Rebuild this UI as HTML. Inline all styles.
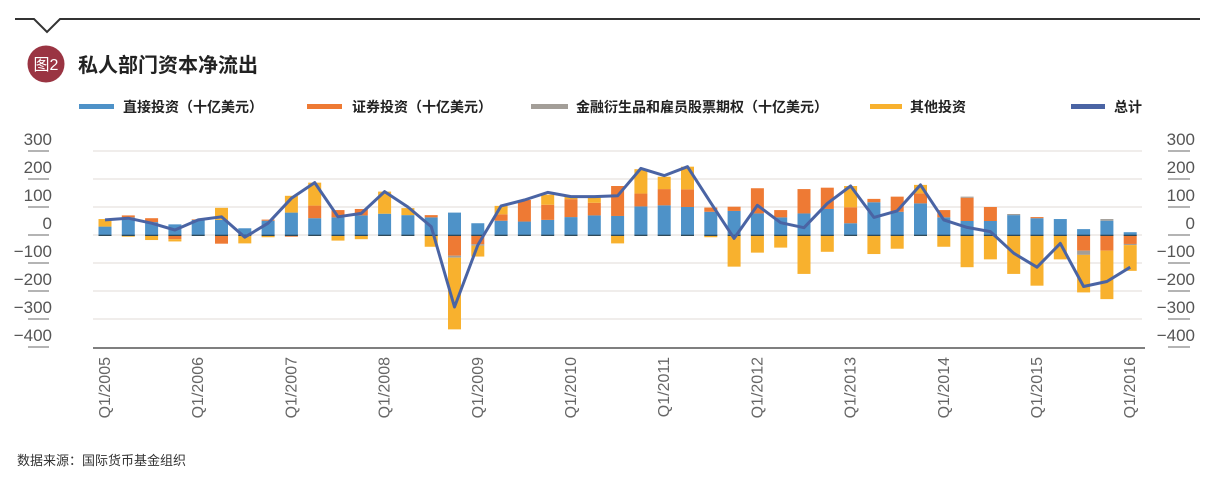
<!DOCTYPE html>
<html><head><meta charset="utf-8"><style>
body{margin:0;background:#fff;width:1213px;height:481px;overflow:hidden}
svg{display:block}
</style></head><body>
<svg id="s" width="1213" height="481" xmlns="http://www.w3.org/2000/svg" font-family="Liberation Sans, Noto Sans CJK SC, sans-serif">
<polyline points="15,19 34,19 47,32 60,19 1200,19" fill="none" stroke="#333" stroke-width="2"/>
<circle cx="46" cy="64" r="18.5" fill="#9a3442"/>
<text x="46" y="70" fill="#fff" font-size="16" text-anchor="middle">图2</text>
<text x="78" y="72" fill="#222" font-size="20" font-weight="bold">私人部门资本净流出</text>
<g font-size="14" font-weight="bold" fill="#222">
<rect x="79" y="104" width="35" height="5" fill="#4e92c8"/><text x="123" y="112">直接投资（十亿美元）</text>
<rect x="307" y="104" width="35" height="5" fill="#ee7a34"/><text x="352" y="112">证券投资（十亿美元）</text>
<rect x="531" y="104" width="37" height="5" fill="#a39e98"/><text x="576" y="112">金融衍生品和雇员股票期权（十亿美元）</text>
<rect x="870" y="104" width="32" height="5" fill="#f8b12e"/><text x="910" y="112">其他投资</text>
<rect x="1071" y="104" width="34" height="5" fill="#4a64a4"/><text x="1114" y="112">总计</text>
</g>
<text x="17" y="465" font-size="13" fill="#333">数据来源：国际货币基金组织</text>
<g id="g"></g>
</svg>
<script>
var g=document.getElementById('g'),NS='http://www.w3.org/2000/svg';
function el(t,a,txt){var e=document.createElementNS(NS,t);for(var k in a)e.setAttribute(k,a[k]);if(txt)e.textContent=txt;g.appendChild(e);return e;}
var Z=235,K=0.28;
function Y(v){return Z-v*K;}
for(var v=300;v>=-400;v-=100){var y=Y(v);
 if(v>-400)el('line',{x1:93,x2:1142,y1:y,y2:y,stroke:'#e6e2df','stroke-width':1.2});
 var lab=v<0?'\u2212'+(-v):''+v;
 el('text',{x:52,y:y-6,'font-size':17,fill:'#555','text-anchor':'end'},lab);
 el('line',{x1:28,x2:49,y1:y,y2:y,stroke:'#888','stroke-width':1.2});
 el('text',{x:1195,y:y-6,'font-size':17,fill:'#555','text-anchor':'end'},lab);
 el('line',{x1:1168,x2:1190,y1:y,y2:y,stroke:'#888','stroke-width':1.2});
}
el('line',{x1:93,x2:1145,y1:348,y2:348,stroke:'#555','stroke-width':1.5});
var D=[[30,0,-3,27],[63,7,0,-6],[46,14,0,-18],[38,-15,0,-8],[54,2,0,0],[54,-31,0,43],[24,0,0,-30],[51,4,0,-8],[80,-6,0,60],[60,45,0,82],
[63,26,0,-20],[70,23,0,-15],[76,0,0,79],[71,0,0,25],[63,8,0,-42],[80,-74,-7,-256],[42,-33,-5,-39],[51,23,0,30],[48,77,0,0],[54,54,0,36],
[64,64,0,8],[70,45,0,21],[68,107,0,-30],[102,46,0,87],[106,58,0,44],[100,63,0,81],[83,15,0,-8],[86,15,0,-113],[77,90,0,-63],[63,26,0,-45],
[77,87,0,-139],[93,76,0,-60],[42,57,0,76],[117,12,0,-68],[83,54,0,-49],[113,36,0,30],[63,26,0,-42],[50,83,4,-115],[50,50,0,-87],[71,0,4,-139],
[60,4,0,-181],[57,0,0,-87],[21,-56,-15,-134],[51,-56,6,-173],[10,-32,-4,-92]];
var L=[54,60,42,18,54,65,-8,42,131,187,65,77,155,100,30,-257,-36,104,125,152,137,137,140,238,212,244,115,-12,106,44,26,113,175,63,86,179,54,27,12,-65,-115,-30,-184,-166,-115];
var C=['#4e92c8','#ee7a34','#a39e98','#f8b12e'];
var pts=[];
for(var i=0;i<45;i++){var x=105+i*23.3,p=0,n=0;
 for(var j=0;j<4;j++){var v=D[i][j];if(!v)continue;
  if(v>0){el('rect',{x:x-6.5,y:Y(p+v),width:13,height:v*K,fill:C[j]});p+=v;}
  else{el('rect',{x:x-6.5,y:Y(n),width:13,height:-v*K,fill:C[j]});n+=v;}}
 el('rect',{x:x-6.5,y:Z-0.3,width:13,height:1.3,fill:'#2f4a5a'});
 pts.push(x.toFixed(1)+','+Y(L[i]).toFixed(1));
}
el('polyline',{points:pts.join(' '),fill:'none',stroke:'#4a64a4','stroke-width':3,'stroke-linejoin':'round'});
var yrs=2005;for(var i=0;i<45;i+=4){var x=105+i*23.3+5;
 el('text',{x:0,y:0,'font-size':16,fill:'#666','text-anchor':'end',transform:'translate('+x+',357) rotate(-90)'},'Q1/'+(yrs++));}
</script>
</body></html>
